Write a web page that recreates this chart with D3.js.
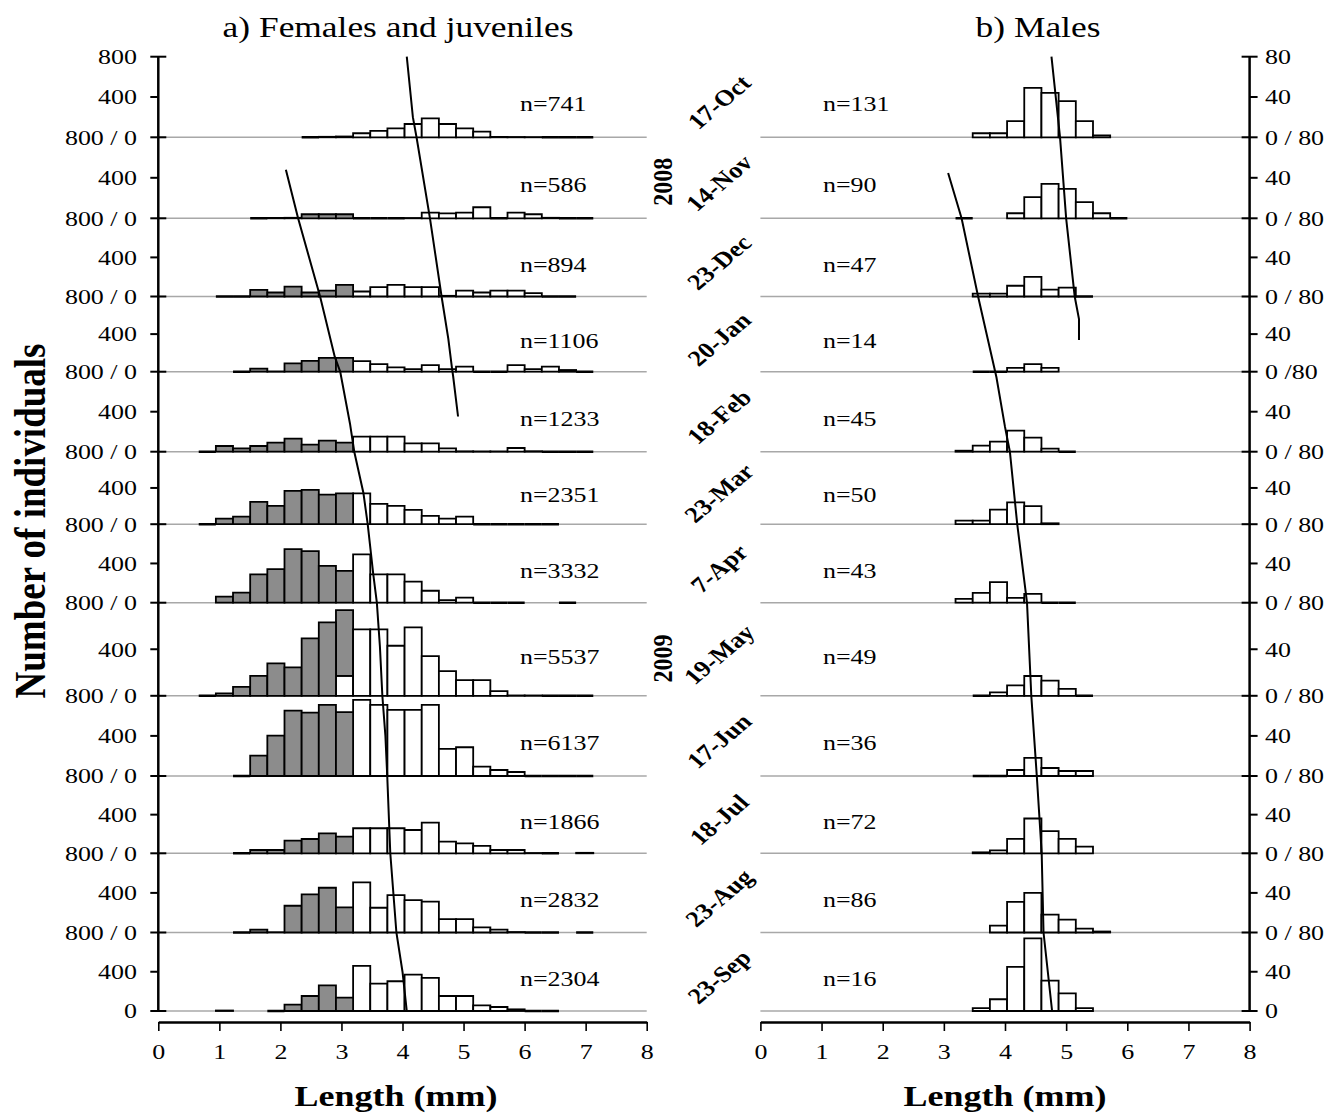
<!DOCTYPE html>
<html>
<head>
<meta charset="utf-8">
<script src="https://cdn.jsdelivr.net/npm/d3@7"></script>
<style>
  body { margin: 0; background: #fff; }
  text { font-family: "Liberation Serif", "Times New Roman", serif; fill: #000; }
</style>
</head>
<body>
<script>
// one row per sampling date
const dates = ["17-Oct", "14-Nov", "23-Dec", "20-Jan", "18-Feb", "23-Mar",
               "7-Apr", "19-May", "17-Jun", "18-Jul", "23-Aug", "23-Sep"];
const years = ["2008", "2009"];
const yearRows = [1.55, 7.6];
const femN = [741, 586, 894, 1106, 1233, 2351, 3332, 5537, 6137, 1866, 2832, 2304];
const maleN = [131, 90, 47, 14, 45, 50, 43, 49, 36, 72, 86, 16];

// length classes: 28 columns of the category axis (mm)
const binOrigin = 0.1, binWidth = 0.281;

// females & juveniles: grey = younger cohort, white = older cohort (counts per class, from first class index)
const femGreyStart = [8, 5, 3, 4, 2, 2, 3, 2, 4, 4, 4, 3];
const femGrey = [
  [],
  [0, 4, 5, 40, 40, 40],
  [0, 0, 68, 41, 102, 41, 61, 119],
  [0, 32, 3, 88, 116, 148, 148],
  [0, 57, 33, 57, 90, 130, 70, 110, 90],
  [0, 62, 84, 246, 202, 367, 378, 327, 341],
  [61, 102, 288, 342, 546, 525, 376, 325],
  [0, 20, 77, 172, 278, 244, 493, 631, 565],
  [0, 203, 403, 653, 633, 710, 637],
  [0, 34, 34, 131, 148, 207, 172],
  [0, 30, 3, 270, 385, 452, 253],
  [5, null, null, 0, 65, 153, 262, 136]
];
const femWhiteStart = [8, 11, 11, 11, 11, 11, 11, 10, 11, 11, 11, 11];
const femWhite = [
  [0, 5, 8, 40, 63, 89, 132, 188, 132, 89, 56, 4, 3, 2, 0, 0, 0],
  [0, 0, 0, 3, 56, 49, 56, 109, 0, 56, 40, 5, 0, 0],
  [51, 95, 119, 95, 95, 7, 61, 41, 61, 61, 34, 0, 0],
  [113, 81, 46, 28, 70, 28, 53, 0, 0, 70, 28, 53, 18, 0],
  [150, 150, 150, 83, 83, 33, 4, 3, 3, 37, 5, 0, 0, 0],
  [341, 224, 202, 158, 92, 62, 84, 0, 0, 0, 0, 0],
  [492, 288, 288, 214, 122, 27, 51, 0, 0, 0, null, null, 0],
  [172, 570, 570, 430, 588, 341, 212, 135, 135, 40, 3, 3, 0, 0, 0],
  [760, 710, 660, 660, 710, 270, 287, 93, 60, 40, 0, 0, 0, 0],
  [259, 259, 259, 241, 317, 121, 103, 76, 34, 34, 3, 0, null, 5],
  [506, 250, 378, 327, 311, 135, 135, 51, 30, 5, 0, 0, null, 0],
  [459, 279, 303, 371, 337, 153, 153, 58, 41, 17, 0, 0]
];

// males
const maleStart = [12, 11, 12, 12, 11, 11, 11, 12, 12, 12, 13, 12];
const maleCounts = [
  [4, 4, 16, 49, 44, 36, 16, 2],
  [0, null, null, 5, 21, 34, 29, 16, 5, 0],
  [3, 3, 11, 20, 7, 9, 0],
  [0, 0, 4, 8, 4],
  [1, 6, 10, 21, 14, 3, 0],
  [4, 4, 16, 24, 20, 1],
  [4, 10, 21, 5, 9, 0, 0],
  [0, 3, 9, 17, 13, 6, 0],
  [0, 0, 6, 18, 8, 5, 5],
  [1, 3, 15, 36, 23, 15, 7],
  [7, 31, 40, 18, 13, 4, 1],
  [3, 12, 45, 74, 31, 18, 3]
];

// cohort mean lengths: [length mm, row position (0 = top of first row)]
const femTrendA = [[4.07, 0], [4.17, 0.75], [4.23, 1], [4.45, 2], [4.64, 3], [4.75, 3.56],
                   [4.81, 3.95], [4.83, 4.06], [4.91, 4.56]];
const femTrendB = [[2.09, 1.4], [2.29, 2], [2.65, 3], [2.89, 3.8], [2.98, 4], [3.14, 4.65],
                   [3.21, 5], [3.36, 5.57], [3.43, 6], [3.52, 6.63], [3.58, 7], [3.63, 7.47],
                   [3.67, 8], [3.72, 8.5], [3.75, 9], [3.8, 10], [3.9, 11], [4.0, 11.5], [4.07, 12]];
const maleTrendA = [[4.76, 0], [4.9, 1], [5.0, 2], [5.14, 3], [5.21, 3.3], [5.21, 3.58]];
const maleTrendB = [[3.07, 1.44], [3.29, 2], [3.56, 3], [3.86, 4.07], [4.0, 4.69], [4.08, 5],
                    [4.2, 6], [4.36, 7], [4.43, 8], [4.52, 9], [4.6, 10], [4.63, 11], [4.77, 12]];

const xTicks = [0, 1, 2, 3, 4, 5, 6, 7, 8];
const femTopLabel = "800", femMidLabel = "400";
const maleTopLabel = "80", maleMidLabel = "40";
const femBaseLabels = ["800 / 0", "800 / 0", "800 / 0", "800 / 0", "800 / 0", "800 / 0",
                       "800 / 0", "800 / 0", "800 / 0", "800 / 0", "800 / 0", "0"];
const maleBaseLabels = ["0 / 80", "0 / 80", "0 / 80", "0 /80", "0 / 80", "0 / 80",
                        "0 / 80", "0 / 80", "0 / 80", "0 / 80", "0 / 80", "0"];

// ---------- layout ----------
const W = 1339, H = 1114;
const SX = 1.18;  // horizontal stretch of the lettering in the original figure
const rowEdges = [56.7, 137.3, 218.3, 296.5, 371.7, 451.7, 524.2, 602.7, 695.8, 776, 853.3, 932.5, 1011];
const axisY = 1022;

const svg = d3.select("body").append("svg")
  .attr("width", W).attr("height", H);

const rowY = d3.scaleLinear().domain(d3.range(13)).range(rowEdges);
const xL = d3.scaleLinear().domain([0, 8]).range([158.3, 646.7]);
const xR = d3.scaleLinear().domain([0, 8]).range([760.4, 1249.6]);

function stretched(sel, x, y, rot) {
  return sel.attr("transform", "translate(" + x + "," + y + ") scale(" + SX + ",1)" + (rot ? " rotate(" + rot + ")" : ""));
}

function addText(x, y, str, size, opts) {
  opts = opts || {};
  const t = svg.append("text")
    .attr("text-anchor", opts.anchor || "middle")
    .attr("dominant-baseline", opts.baseline || "central")
    .style("font-size", size + "px")
    .style("font-weight", opts.bold ? "bold" : "normal")
    .text(str);
  return stretched(t, x, y, opts.rot);
}

// bins of one row -> list of rectangles
function rowBars(greyStart, grey, whiteStart, white) {
  const bins = new Map();
  (white || []).forEach((v, i) => {
    if (v != null) bins.set(whiteStart + i, {k: whiteStart + i, w: v, g: null});
  });
  (grey || []).forEach((v, i) => {
    if (v == null) return;
    const k = greyStart + i;
    const b = bins.get(k) || {k: k, w: null, g: null};
    b.g = v;
    bins.set(k, b);
  });
  const out = [];
  bins.forEach(b => {
    const base = b.w || 0;
    if (b.w != null) out.push({k: b.k, lo: 0, hi: b.w, fill: "#fff"});
    if (b.g != null && (b.g > 0 || b.w == null)) out.push({k: b.k, lo: base, hi: base + b.g, fill: "#8c8c8c"});
  });
  return out;
}

function drawPanel(x, maxVal, barsByRow, trends) {
  const g = svg.append("g");
  // grey baselines
  g.selectAll("line.base")
    .data(d3.range(12))
    .join("line")
    .attr("class", "base")
    .attr("x1", x(0)).attr("x2", x(8))
    .attr("y1", r => rowEdges[r + 1]).attr("y2", r => rowEdges[r + 1])
    .attr("stroke", "#a8a8a8").attr("stroke-width", 1.5);

  barsByRow.forEach((bars, r) => {
    const y = d3.scaleLinear().domain([0, maxVal]).range([rowEdges[r + 1], rowEdges[r]]);
    g.append("g").selectAll("path")
      .data(bars)
      .join("path")
      .attr("d", d => {
        const x0 = x(binOrigin + d.k * binWidth), x1 = x(binOrigin + (d.k + 1) * binWidth);
        return "M" + x0 + "," + y(d.lo) + "H" + x1 + "V" + y(d.hi) + "H" + x0 + "Z";
      })
      .attr("fill", d => d.fill)
      .attr("stroke", "#000")
      .attr("stroke-width", d => d.hi === d.lo ? 2.6 : 1.8);
  });

  const line = d3.line().x(d => x(d[0])).y(d => rowY(d[1]));
  trends.forEach(t => {
    g.append("path")
      .attr("d", line(t))
      .attr("fill", "none")
      .attr("stroke", "#000")
      .attr("stroke-width", 2);
  });

  // bottom axis
  const ax = svg.append("g")
    .attr("transform", "translate(0," + axisY + ")")
    .call(d3.axisBottom(x).tickValues(xTicks).tickSize(9).tickSizeOuter(0).tickPadding(12));
  ax.select(".domain").attr("stroke-width", 2.5);
  ax.selectAll(".tick line").attr("stroke-width", 1.6);
  ax.selectAll(".tick text")
    .style("font-size", "22px")
    .style("font-family", "'Liberation Serif', 'Times New Roman', serif")
    .attr("transform", "scale(" + SX + ",1)");
  return g;
}

// female panel
const femBars = dates.map((d, r) => rowBars(femGreyStart[r], femGrey[r], femWhiteStart[r], femWhite[r]));
drawPanel(xL, 800, femBars, [femTrendA, femTrendB]);

// male panel
const maleBars = dates.map((d, r) => rowBars(0, [], maleStart[r], maleCounts[r]));
drawPanel(xR, 80, maleBars, [maleTrendA, maleTrendB]);

// vertical axes
function vAxis(xPos, dir, maxVal, topLabel, midLabel, baseLabels, labelX, anchor) {
  svg.append("line")
    .attr("x1", xPos).attr("x2", xPos)
    .attr("y1", rowEdges[0]).attr("y2", rowEdges[12])
    .attr("stroke", "#000").attr("stroke-width", 2.5);
  const ticks = [{y: rowEdges[0], lab: topLabel, cross: true}];
  dates.forEach((d, r) => {
    const y = d3.scaleLinear().domain([0, maxVal]).range([rowEdges[r + 1], rowEdges[r]]);
    ticks.push({y: y(maxVal / 2), lab: midLabel, cross: false});
    ticks.push({y: y(0), lab: baseLabels[r], cross: true});
  });
  svg.append("g").selectAll("line")
    .data(ticks)
    .join("line")
    .attr("x1", d => d.cross ? xPos - 8 : xPos)
    .attr("x2", d => d.cross ? xPos + 8 : xPos + dir * 8)
    .attr("y1", d => d.y).attr("y2", d => d.y)
    .attr("stroke", "#000").attr("stroke-width", 2);
  ticks.forEach(t => addText(labelX, t.y, t.lab, 22, {anchor: anchor}));
}
vAxis(xL(0), -1, 800, femTopLabel, femMidLabel, femBaseLabels, 137, "end");
vAxis(xR(8), 1, 80, maleTopLabel, maleMidLabel, maleBaseLabels, 1265, "start");

// n labels and dates
dates.forEach((d, r) => {
  const mid = (rowEdges[r] + rowEdges[r + 1]) / 2;
  addText(520, mid + 7, "n=" + femN[r], 22, {anchor: "start"});
  addText(823, mid + 7, "n=" + maleN[r], 22, {anchor: "start"});
  addText(719, mid + 5, d, 22.5, {bold: true, rot: -45});
});

years.forEach((yr, i) => addText(663, rowY(yearRows[i]), yr, 24, {bold: true, rot: -90}));

// titles
addText(398, 27, "a) Females and juveniles", 30);
addText(1038, 27, "b) Males", 30);
addText(396, 1095, "Length (mm)", 30.5, {bold: true});
addText(1005, 1095, "Length (mm)", 30.5, {bold: true});
addText(30, 521, "Number of individuals", 37, {bold: true, rot: -90});
</script>
</body>
</html>
